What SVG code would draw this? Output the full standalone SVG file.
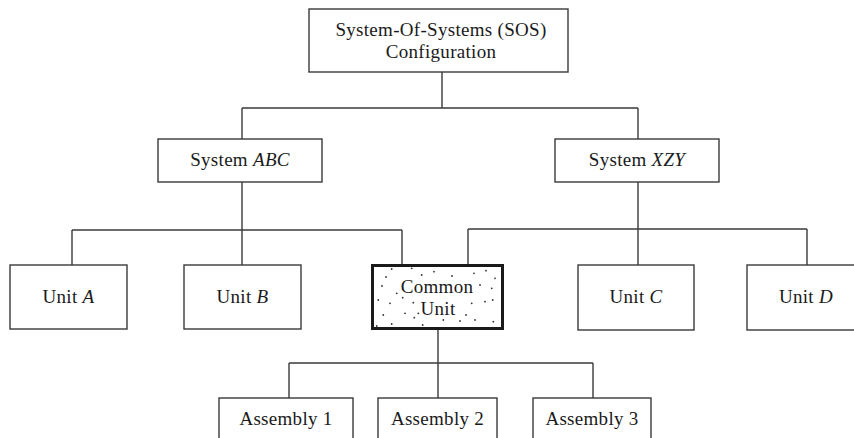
<svg xmlns="http://www.w3.org/2000/svg" width="854" height="438" viewBox="0 0 854 438">
<style>
  .box { fill: #ffffff; stroke: #3a3a3a; stroke-width: 1.4; }
  .cbox { fill: #ffffff; stroke: #1a1a1a; stroke-width: 3; }
  .conn line { stroke: #3a3a3a; stroke-width: 1.4; }
  text { font-family: "Liberation Serif", "Times New Roman", serif; font-size: 19px; fill: #1a1a1a; text-anchor: middle; letter-spacing: 0.3px; }
  .it { font-style: italic; }
  .dot { fill: #333333; }
</style>
<rect width="854" height="438" fill="#ffffff"/>
<g id="connectors" class="conn">
  <line x1="442" y1="72" x2="442" y2="108"/>
  <line x1="242" y1="108" x2="638" y2="108"/>
  <line x1="242" y1="108" x2="242" y2="139"/>
  <line x1="638" y1="108" x2="638" y2="139"/>
  <line x1="242" y1="182" x2="242" y2="230"/>
  <line x1="72" y1="230" x2="402" y2="230"/>
  <line x1="72" y1="230" x2="72" y2="265"/>
  <line x1="242" y1="230" x2="242" y2="265"/>
  <line x1="402" y1="230" x2="402" y2="264"/>
  <line x1="638" y1="182" x2="638" y2="229"/>
  <line x1="468" y1="229" x2="807" y2="229"/>
  <line x1="468" y1="229" x2="468" y2="264"/>
  <line x1="638" y1="229" x2="638" y2="265"/>
  <line x1="807" y1="229" x2="807" y2="265"/>
  <line x1="438" y1="330" x2="438" y2="363"/>
  <line x1="289" y1="363" x2="593" y2="363"/>
  <line x1="289" y1="363" x2="289" y2="398"/>
  <line x1="438" y1="363" x2="438" y2="398"/>
  <line x1="593" y1="363" x2="593" y2="398"/>
</g>
<g id="sos">
  <rect class="box" x="309" y="9" width="259" height="63"/>
  <text x="441" y="36">System-Of-Systems (SOS)</text>
  <text x="441" y="58">Configuration</text>
</g>
<g id="system-abc">
  <rect class="box" x="158" y="139" width="164" height="43"/>
  <text x="240" y="166">System <tspan class="it">ABC</tspan></text>
</g>
<g id="system-xzy">
  <rect class="box" x="555" y="139" width="164" height="43"/>
  <text x="637" y="166">System <tspan class="it">XZY</tspan></text>
</g>
<g id="unit-a">
  <rect class="box" x="10" y="265" width="117" height="64"/>
  <text x="68.5" y="303">Unit <tspan class="it">A</tspan></text>
</g>
<g id="unit-b">
  <rect class="box" x="184" y="265" width="117" height="64"/>
  <text x="242.5" y="303">Unit <tspan class="it">B</tspan></text>
</g>
<g id="common-unit">
  <rect class="cbox" x="372.5" y="265.5" width="130" height="63"/>
  <g class="dot">
    <circle cx="391.7" cy="269" r="0.9"/><circle cx="411.7" cy="268.3" r="0.9"/><circle cx="421.7" cy="275" r="0.9"/>
    <circle cx="434" cy="271.7" r="0.9"/><circle cx="474" cy="273.3" r="0.9"/><circle cx="486" cy="270.7" r="0.9"/>
    <circle cx="495" cy="278.3" r="0.9"/><circle cx="382" cy="286" r="0.9"/><circle cx="396.7" cy="293.3" r="0.9"/>
    <circle cx="378.3" cy="300" r="0.9"/><circle cx="390" cy="303.3" r="0.9"/><circle cx="402.7" cy="297.7" r="0.9"/>
    <circle cx="413.3" cy="302.7" r="0.9"/><circle cx="418.3" cy="313.3" r="0.9"/><circle cx="383.3" cy="315" r="0.9"/>
    <circle cx="405" cy="313.3" r="0.9"/><circle cx="414.3" cy="317.7" r="0.9"/><circle cx="471.7" cy="303.3" r="0.9"/>
    <circle cx="485" cy="301.7" r="0.9"/><circle cx="492.7" cy="300" r="0.9"/><circle cx="466" cy="315" r="0.9"/>
    <circle cx="475" cy="320" r="0.9"/><circle cx="493.3" cy="321.7" r="0.9"/><circle cx="460" cy="321" r="0.9"/>
    <circle cx="422.7" cy="325" r="0.9"/><circle cx="391.7" cy="324" r="0.9"/><circle cx="376.7" cy="326" r="0.9"/>
    <circle cx="443.3" cy="320" r="0.9"/><circle cx="491.7" cy="288.3" r="0.9"/><circle cx="452" cy="276" r="0.9"/>
    <circle cx="480" cy="285" r="0.9"/><circle cx="386" cy="277" r="0.9"/>
  </g>
  <text x="437" y="293">Common</text>
  <text x="438" y="315">Unit</text>
</g>
<g id="unit-c">
  <rect class="box" x="578" y="265" width="116" height="65"/>
  <text x="636" y="303">Unit <tspan class="it">C</tspan></text>
</g>
<g id="unit-d">
  <rect class="box" x="747" y="265" width="120" height="65"/>
  <text x="806" y="303">Unit <tspan class="it">D</tspan></text>
</g>
<g id="assembly-1">
  <rect class="box" x="219" y="398" width="134" height="50"/>
  <text x="286" y="425">Assembly 1</text>
</g>
<g id="assembly-2">
  <rect class="box" x="378" y="398" width="119" height="50"/>
  <text x="437.5" y="425">Assembly 2</text>
</g>
<g id="assembly-3">
  <rect class="box" x="533" y="398" width="118" height="50"/>
  <text x="592" y="425">Assembly 3</text>
</g>
</svg>
